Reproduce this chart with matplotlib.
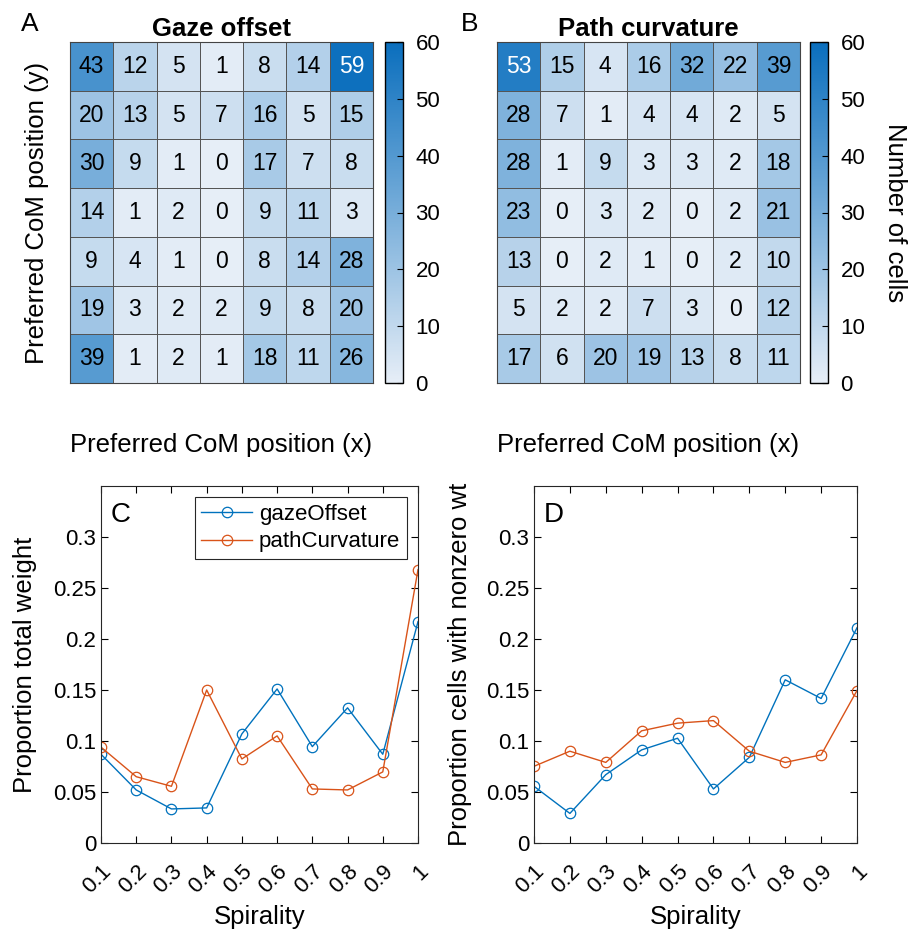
import numpy as np
import matplotlib
matplotlib.use("Agg")
import matplotlib.pyplot as plt
from matplotlib.colors import LinearSegmentedColormap

plt.rcParams['font.family'] = ['Liberation Sans', 'DejaVu Sans']

gaze_counts = [
    [43, 12, 5, 1, 8, 14, 59],
    [20, 13, 5, 7, 16, 5, 15],
    [30, 9, 1, 0, 17, 7, 8],
    [14, 1, 2, 0, 9, 11, 3],
    [9, 4, 1, 0, 8, 14, 28],
    [19, 3, 2, 2, 9, 8, 20],
    [39, 1, 2, 1, 18, 11, 26],
]
path_counts = [
    [53, 15, 4, 16, 32, 22, 39],
    [28, 7, 1, 4, 4, 2, 5],
    [28, 1, 9, 3, 3, 2, 18],
    [23, 0, 3, 2, 0, 2, 21],
    [13, 0, 2, 1, 0, 2, 10],
    [5, 2, 2, 7, 3, 0, 12],
    [17, 6, 20, 19, 13, 8, 11],
]

spirality = [0.1, 0.2, 0.3, 0.4, 0.5, 0.6, 0.7, 0.8, 0.9, 1.0]
weight_gaze = [0.087, 0.052, 0.0334, 0.0344, 0.107, 0.151, 0.0945, 0.1325, 0.087, 0.217]
weight_path = [0.094, 0.065, 0.0556, 0.150, 0.0824, 0.105, 0.053, 0.052, 0.0697, 0.268]
nonzero_gaze = [0.0556, 0.029, 0.067, 0.0913, 0.1027, 0.053, 0.084, 0.160, 0.1417, 0.211]
nonzero_path = [0.0752, 0.090, 0.079, 0.110, 0.1175, 0.120, 0.090, 0.079, 0.0864, 0.1495]

blue = '#0072BD'
orange = '#D95319'
cmap = LinearSegmentedColormap.from_list('blues', ['#E6EEF7', '#0A6EBD'])

fig = plt.figure(figsize=(9.15, 9.33), dpi=100)
W, H = 915, 933


def box(x0, y0, x1, y1):
    return [x0 / W, 1 - y1 / H, (x1 - x0) / W, (y1 - y0) / H]


def heat(ax_box, cb_box, data, title, ylabel, cblabel):
    ax = fig.add_axes(box(*ax_box))
    arr = np.array(data)
    mesh = ax.pcolormesh(arr, cmap=cmap, vmin=0, vmax=60,
                         edgecolors='#555555', linewidth=0.7)
    ax.set_xlim(0, 7)
    ax.set_ylim(7, 0)
    for i in range(7):
        for j in range(7):
            v = arr[i, j]
            ax.text(j + 0.5, i + 0.5, str(v), ha='center', va='center',
                    fontsize=16.5, color='white' if v > 50 else 'black')
    ax.set_xticks([])
    ax.set_yticks([])
    for s in ax.spines.values():
        s.set_color('#444444')
    ax.set_title(title, fontsize=18.5, fontweight='bold', pad=4)
    ax.set_xlabel('Preferred CoM position (x)', fontsize=18.5, labelpad=36)
    if ylabel:
        ax.set_ylabel(ylabel, fontsize=18.5, labelpad=15)
    cax = fig.add_axes(box(*cb_box))
    cb = fig.colorbar(mesh, cax=cax, ticks=range(0, 61, 10))
    cb.ax.tick_params(direction='in', labelsize=16, length=4, width=0.8,
                      pad=9)
    cb.outline.set_linewidth(1.0)
    if cblabel:
        cb.set_label(cblabel, fontsize=18.5, rotation=270, labelpad=30)
    return ax


axA = heat((70, 42, 373, 383), (385, 42, 403, 383), gaze_counts,
           'Gaze offset', 'Preferred CoM position (y)', None)
axB = heat((497, 42, 800, 383), (810, 42, 828, 383), path_counts,
           'Path curvature', None, 'Number of cells')
fig.text(30 / W, 1 - 24 / H, 'A', fontsize=19, ha='center', va='center')
fig.text(470 / W, 1 - 24 / H, 'B', fontsize=19, ha='center', va='center')


def lineplot(ax_box, g, p, ylabel, letter, legend, ypad):
    ax = fig.add_axes(box(*ax_box))
    ax.plot(spirality, g, '-o', color=blue, mfc='none', ms=7.5, lw=1, mew=0.9,
            label='gazeOffset')
    ax.plot(spirality, p, '-o', color=orange, mfc='none', ms=7.5, lw=1, mew=0.9,
            label='pathCurvature')
    ax.set_xlim(0.1, 1.0)
    ax.set_ylim(0, 0.35)
    ax.set_xticks(spirality)
    ax.set_xticklabels(['0.1', '0.2', '0.3', '0.4', '0.5', '0.6', '0.7',
                        '0.8', '0.9', '1'], rotation=45, ha='right',
                       va='top', rotation_mode='anchor')
    ax.set_yticks([0, 0.05, 0.1, 0.15, 0.2, 0.25, 0.3])
    ax.set_yticklabels(['0', '0.05', '0.1', '0.15', '0.2', '0.25', '0.3'])
    ax.tick_params(direction='in', top=True, right=True, labelsize=16,
                   length=5, width=0.8)
    ax.tick_params(axis='x', pad=13)
    for s in ax.spines.values():
        s.set_color('#262626')
        s.set_linewidth(0.8)
    ax.set_xlabel('Spirality', fontsize=18.5, labelpad=5)
    ax.set_ylabel(ylabel, fontsize=18.5, labelpad=ypad)
    ax.text(0.03, 0.955, letter, transform=ax.transAxes, fontsize=20,
            ha='left', va='top')
    if legend:
        leg = ax.legend(loc='upper right', fontsize=16, fancybox=False,
                        edgecolor='#262626', framealpha=1, borderpad=0.3,
                        handlelength=2.3, handletextpad=0.3,
                        labelspacing=0.3, borderaxespad=0.5)
        leg.get_frame().set_linewidth(0.8)
    return ax


axC = lineplot((101, 486, 418, 843), weight_gaze, weight_path,
               'Proportion total weight', 'C', True, 11)
axD = lineplot((534, 486, 857, 843), nonzero_gaze, nonzero_path,
               'Proportion cells with nonzero wt', 'D', False, 10)

fig.savefig('out.png', dpi=100)
